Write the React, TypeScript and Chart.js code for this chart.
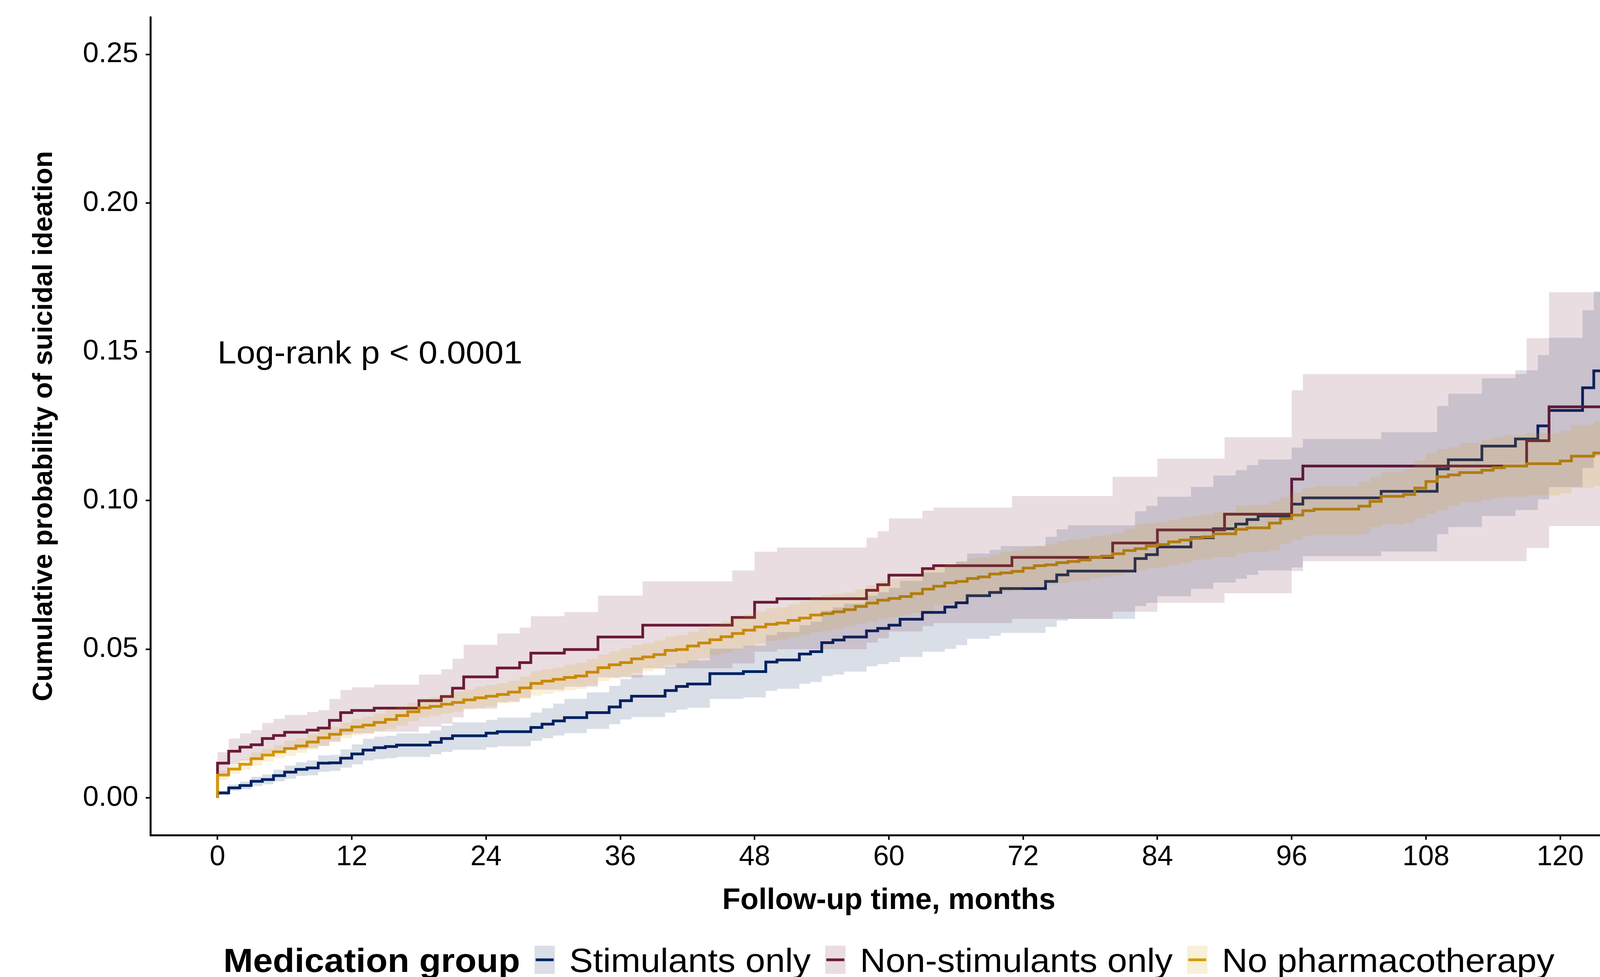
import React, { useEffect, useRef } from "react";
import { Chart, registerables } from "chart.js";

Chart.register(...registerables);

const FONT = "'Liberation Sans', Arial, Helvetica, sans-serif";

// ---------- axes / text ----------
const X_TICKS = [0, 12, 24, 36, 48, 60, 72, 84, 96, 108, 120];
const Y_TICKS = [0, 0.05, 0.1, 0.15, 0.2, 0.25];
const X_MIN = -6;
const X_MAX = 126;
const Y_MIN = -0.0125;
const Y_MAX = 0.2625;
const END_T = 125;

const GROUPS = ["Stimulants only", "Non-stimulants only", "No pharmacotherapy"];
const LEGEND_TITLE = "Medication group";
const X_TITLE = "Follow-up time, months";
const Y_TITLE = "Cumulative probability of suicidal ideation";
const ANNOTATION = "Log-rank p < 0.0001";
const ANNOT_X = 0;
const ANNOT_Y = 0.15;

const LINE_COLORS = ["rgb(0,33,97)", "rgb(107,26,53)", "rgb(215,155,0)"];
const BAND_COLORS = ["rgba(0,33,97,0.15)", "rgba(107,26,53,0.15)", "rgba(215,155,0,0.15)"];

// ---------- Stimulants only ----------
const STIM_T = [0, 1, 2, 3, 4, 5, 6, 7, 8, 9, 10, 11, 12, 13, 14, 15, 16, 19, 20, 21, 24, 25, 28, 29, 30, 31, 33, 35, 36, 37, 40, 41, 42, 44, 47, 49, 50, 52, 53, 54, 55, 56, 58, 59, 60, 61, 63, 65, 66, 67, 69, 70, 74, 75, 76, 82, 83, 84, 87, 89, 91, 92, 93, 96, 97, 104, 109, 110, 113, 116, 118, 119, 122, 123];
const STIM_EST = [0.0017, 0.0034, 0.0042, 0.0056, 0.0062, 0.0075, 0.0087, 0.0096, 0.0101, 0.0117, 0.0118, 0.0134, 0.0148, 0.0161, 0.0169, 0.0173, 0.0178, 0.0187, 0.0200, 0.0209, 0.0218, 0.0223, 0.0237, 0.0248, 0.0259, 0.0270, 0.0287, 0.0306, 0.0327, 0.0342, 0.0361, 0.0375, 0.0383, 0.0418, 0.0425, 0.0457, 0.0464, 0.0484, 0.0492, 0.0522, 0.0531, 0.0541, 0.0562, 0.0570, 0.0581, 0.0601, 0.0624, 0.0642, 0.0656, 0.0680, 0.0691, 0.0704, 0.0728, 0.0750, 0.0763, 0.0805, 0.0818, 0.0844, 0.0875, 0.0905, 0.0921, 0.0936, 0.0948, 0.0988, 0.1009, 0.1031, 0.1106, 0.1137, 0.1183, 0.1207, 0.1251, 0.1303, 0.1379, 0.1436];
const STIM_HI = [0.0025, 0.0045, 0.0055, 0.0071, 0.0079, 0.0095, 0.0109, 0.0120, 0.0126, 0.0143, 0.0145, 0.0163, 0.0180, 0.0199, 0.0206, 0.0209, 0.0217, 0.0227, 0.0243, 0.0254, 0.0263, 0.0270, 0.0287, 0.0302, 0.0317, 0.0333, 0.0355, 0.0377, 0.0400, 0.0413, 0.0440, 0.0452, 0.0462, 0.0502, 0.0512, 0.0548, 0.0558, 0.0581, 0.0593, 0.0630, 0.0641, 0.0653, 0.0680, 0.0692, 0.0706, 0.0730, 0.0758, 0.0778, 0.0795, 0.0822, 0.0834, 0.0847, 0.0878, 0.0903, 0.0917, 0.0964, 0.0982, 0.1013, 0.1046, 0.1084, 0.1102, 0.1119, 0.1138, 0.1178, 0.1207, 0.1230, 0.1318, 0.1359, 0.1411, 0.1438, 0.1489, 0.1547, 0.1640, 0.1703];
const STIM_LO = [0.0010, 0.0024, 0.0029, 0.0040, 0.0046, 0.0056, 0.0065, 0.0074, 0.0076, 0.0088, 0.0091, 0.0102, 0.0113, 0.0126, 0.0131, 0.0134, 0.0138, 0.0147, 0.0155, 0.0162, 0.0170, 0.0174, 0.0192, 0.0201, 0.0210, 0.0218, 0.0232, 0.0248, 0.0264, 0.0272, 0.0287, 0.0297, 0.0303, 0.0333, 0.0338, 0.0360, 0.0367, 0.0384, 0.0390, 0.0410, 0.0415, 0.0425, 0.0443, 0.0450, 0.0457, 0.0474, 0.0492, 0.0501, 0.0514, 0.0535, 0.0545, 0.0555, 0.0575, 0.0596, 0.0602, 0.0645, 0.0656, 0.0678, 0.0703, 0.0724, 0.0737, 0.0750, 0.0765, 0.0775, 0.0813, 0.0829, 0.0887, 0.0911, 0.0948, 0.0968, 0.1004, 0.1045, 0.1109, 0.1150];

// ---------- Non-stimulants only ----------
const NONSTIM_T = [0, 1, 2, 3, 4, 5, 6, 8, 9, 10, 11, 12, 14, 18, 20, 21, 22, 25, 27, 28, 31, 34, 38, 46, 48, 50, 58, 59, 60, 63, 64, 71, 80, 84, 90, 96, 97, 117, 119];
const NONSTIM_EST = [0.0117, 0.0157, 0.0171, 0.0179, 0.0200, 0.0210, 0.0221, 0.0228, 0.0235, 0.0261, 0.0287, 0.0294, 0.0302, 0.0327, 0.0341, 0.0369, 0.0407, 0.0437, 0.0455, 0.0487, 0.0499, 0.0541, 0.0581, 0.0607, 0.0658, 0.0670, 0.0698, 0.0717, 0.0749, 0.0771, 0.0781, 0.0809, 0.0857, 0.0901, 0.0954, 0.1072, 0.1116, 0.1201, 0.1315];
const NONSTIM_HI = [0.0154, 0.0200, 0.0217, 0.0228, 0.0252, 0.0266, 0.0279, 0.0289, 0.0295, 0.0333, 0.0363, 0.0372, 0.0381, 0.0415, 0.0433, 0.0468, 0.0515, 0.0553, 0.0573, 0.0611, 0.0625, 0.0680, 0.0728, 0.0765, 0.0828, 0.0842, 0.0875, 0.0897, 0.0940, 0.0966, 0.0976, 0.1015, 0.1080, 0.1141, 0.1213, 0.1371, 0.1425, 0.1546, 0.1700];
const NONSTIM_LO = [0.0078, 0.0114, 0.0126, 0.0131, 0.0148, 0.0155, 0.0164, 0.0168, 0.0175, 0.0190, 0.0212, 0.0217, 0.0223, 0.0240, 0.0250, 0.0271, 0.0300, 0.0322, 0.0337, 0.0364, 0.0374, 0.0405, 0.0436, 0.0452, 0.0492, 0.0500, 0.0522, 0.0537, 0.0560, 0.0578, 0.0588, 0.0602, 0.0626, 0.0656, 0.0688, 0.0763, 0.0796, 0.0840, 0.0914];

// ---------- No pharmacotherapy ----------
const NOPHARM_T = [0, 1, 2, 3, 4, 5, 6, 7, 8, 9, 10, 11, 12, 13, 14, 15, 16, 17, 18, 19, 20, 21, 22, 23, 24, 25, 26, 27, 28, 29, 30, 31, 32, 33, 34, 35, 36, 37, 38, 39, 40, 41, 42, 43, 44, 45, 46, 47, 48, 49, 50, 51, 52, 53, 54, 55, 56, 57, 58, 59, 60, 61, 62, 63, 64, 65, 66, 67, 68, 69, 70, 71, 72, 73, 74, 75, 76, 77, 78, 79, 80, 81, 82, 83, 84, 85, 86, 87, 88, 89, 91, 92, 94, 95, 96, 97, 98, 102, 103, 104, 106, 107, 108, 109, 110, 111, 113, 114, 115, 117, 120, 121, 123];
const NOPHARM_EST = [0.0077, 0.0097, 0.0113, 0.0132, 0.0144, 0.0155, 0.0166, 0.0175, 0.0188, 0.0202, 0.0214, 0.0228, 0.0239, 0.0245, 0.0254, 0.0264, 0.0277, 0.0290, 0.0303, 0.0308, 0.0315, 0.0321, 0.0330, 0.0337, 0.0342, 0.0348, 0.0356, 0.0370, 0.0385, 0.0393, 0.0399, 0.0405, 0.0410, 0.0423, 0.0438, 0.0448, 0.0455, 0.0468, 0.0474, 0.0482, 0.0496, 0.0499, 0.0511, 0.0521, 0.0532, 0.0542, 0.0553, 0.0564, 0.0575, 0.0584, 0.0588, 0.0597, 0.0605, 0.0615, 0.0620, 0.0626, 0.0633, 0.0644, 0.0655, 0.0665, 0.0671, 0.0677, 0.0687, 0.0702, 0.0712, 0.0723, 0.0728, 0.0738, 0.0743, 0.0753, 0.0757, 0.0762, 0.0773, 0.0781, 0.0784, 0.0791, 0.0795, 0.0800, 0.0810, 0.0813, 0.0821, 0.0832, 0.0838, 0.0847, 0.0852, 0.0861, 0.0867, 0.0873, 0.0878, 0.0888, 0.0903, 0.0908, 0.0924, 0.0939, 0.0951, 0.0966, 0.0971, 0.0981, 0.0997, 0.1014, 0.1020, 0.1042, 0.1064, 0.1080, 0.1086, 0.1094, 0.1102, 0.1110, 0.1116, 0.1124, 0.1133, 0.1149, 0.1160];
const NOPHARM_HI = [0.0092, 0.0113, 0.0131, 0.0154, 0.0165, 0.0178, 0.0192, 0.0201, 0.0214, 0.0230, 0.0240, 0.0253, 0.0267, 0.0274, 0.0284, 0.0295, 0.0308, 0.0321, 0.0334, 0.0339, 0.0347, 0.0358, 0.0365, 0.0375, 0.0380, 0.0386, 0.0394, 0.0408, 0.0427, 0.0433, 0.0439, 0.0449, 0.0455, 0.0468, 0.0482, 0.0493, 0.0503, 0.0515, 0.0521, 0.0530, 0.0543, 0.0548, 0.0559, 0.0572, 0.0582, 0.0594, 0.0606, 0.0617, 0.0628, 0.0638, 0.0641, 0.0652, 0.0662, 0.0672, 0.0682, 0.0686, 0.0690, 0.0702, 0.0715, 0.0728, 0.0737, 0.0740, 0.0744, 0.0768, 0.0777, 0.0787, 0.0794, 0.0805, 0.0809, 0.0818, 0.0828, 0.0832, 0.0841, 0.0848, 0.0853, 0.0863, 0.0868, 0.0872, 0.0880, 0.0884, 0.0891, 0.0905, 0.0920, 0.0924, 0.0927, 0.0935, 0.0942, 0.0948, 0.0952, 0.0961, 0.0982, 0.0986, 0.0997, 0.1012, 0.1027, 0.1042, 0.1048, 0.1062, 0.1080, 0.1097, 0.1106, 0.1134, 0.1159, 0.1173, 0.1180, 0.1193, 0.1205, 0.1213, 0.1220, 0.1227, 0.1236, 0.1255, 0.1266];
const NOPHARM_LO = [0.0061, 0.0082, 0.0095, 0.0110, 0.0122, 0.0134, 0.0141, 0.0152, 0.0162, 0.0175, 0.0187, 0.0201, 0.0211, 0.0217, 0.0226, 0.0232, 0.0243, 0.0258, 0.0271, 0.0276, 0.0284, 0.0290, 0.0297, 0.0302, 0.0308, 0.0318, 0.0326, 0.0333, 0.0344, 0.0350, 0.0357, 0.0362, 0.0367, 0.0379, 0.0393, 0.0402, 0.0409, 0.0420, 0.0426, 0.0433, 0.0446, 0.0449, 0.0460, 0.0470, 0.0480, 0.0489, 0.0499, 0.0509, 0.0519, 0.0528, 0.0532, 0.0540, 0.0548, 0.0557, 0.0562, 0.0567, 0.0577, 0.0586, 0.0592, 0.0602, 0.0608, 0.0615, 0.0622, 0.0630, 0.0648, 0.0652, 0.0662, 0.0674, 0.0677, 0.0684, 0.0693, 0.0697, 0.0706, 0.0712, 0.0718, 0.0722, 0.0727, 0.0731, 0.0740, 0.0744, 0.0749, 0.0757, 0.0765, 0.0772, 0.0775, 0.0784, 0.0790, 0.0799, 0.0803, 0.0810, 0.0823, 0.0827, 0.0833, 0.0855, 0.0868, 0.0880, 0.0884, 0.0888, 0.0910, 0.0920, 0.0924, 0.0940, 0.0955, 0.0967, 0.0981, 0.0994, 0.1002, 0.1008, 0.1012, 0.1017, 0.1024, 0.1042, 0.1049];

type Pt = { x: number; y: number };

function linePoints(T: number[], E: number[]): Pt[] {
  const pts: Pt[] = [{ x: T[0], y: 0 }];
  T.forEach((t, i) => pts.push({ x: t, y: E[i] }));
  pts.push({ x: END_T, y: E[E.length - 1] });
  return pts;
}

function bandPoints(T: number[], B: number[]): Pt[] {
  const pts: Pt[] = T.map((t, i) => ({ x: t, y: B[i] }));
  pts.push({ x: END_T, y: B[B.length - 1] });
  return pts;
}

const SERIES = [
  { t: STIM_T, est: STIM_EST, hi: STIM_HI, lo: STIM_LO },
  { t: NONSTIM_T, est: NONSTIM_EST, hi: NONSTIM_HI, lo: NONSTIM_LO },
  { t: NOPHARM_T, est: NOPHARM_EST, hi: NOPHARM_HI, lo: NOPHARM_LO },
];

// horizontally widened text (the reference glyphs are slightly wide)
const STRETCH = 1.06;

function wideText(ctx: CanvasRenderingContext2D, text: string, x: number, y: number) {
  ctx.save();
  ctx.translate(x, y);
  ctx.scale(STRETCH, 1);
  ctx.fillText(text, 0, 0);
  ctx.restore();
}

const decorPlugin = {
  id: "kmDecor",
  afterDraw(chart: any) {
    const { ctx, chartArea, scales } = chart;
    ctx.save();
    // annotation
    ctx.fillStyle = "#000";
    ctx.font = `82px ${FONT}`;
    ctx.textAlign = "left";
    ctx.textBaseline = "middle";
    wideText(ctx, ANNOTATION, scales.x.getPixelForValue(ANNOT_X), scales.y.getPixelForValue(ANNOT_Y) + 7);

    // legend
    const fs = 86;
    const keyW = 52;
    const keyH = 72;
    const gap = 37;
    ctx.font = `bold ${fs}px ${FONT}`;
    const titleW = ctx.measureText(LEGEND_TITLE).width * STRETCH;
    ctx.font = `${fs}px ${FONT}`;
    const itemW = GROUPS.map((g) => ctx.measureText(g).width * STRETCH);
    const total = titleW + GROUPS.length * (2 * gap + keyW) + itemW.reduce((a, b) => a + b, 0);
    const cx = (chartArea.left + chartArea.right) / 2;
    const cy = 2456;
    const baseline = cy + (0.716 * fs) / 2;
    let x = cx - total / 2;
    ctx.textBaseline = "alphabetic";
    ctx.font = `bold ${fs}px ${FONT}`;
    wideText(ctx, LEGEND_TITLE, x, baseline);
    x += titleW;
    ctx.font = `${fs}px ${FONT}`;
    GROUPS.forEach((g, i) => {
      x += gap;
      ctx.fillStyle = BAND_COLORS[i];
      ctx.fillRect(x, cy - keyH / 2, keyW, keyH);
      ctx.strokeStyle = LINE_COLORS[i];
      ctx.lineWidth = 7;
      ctx.beginPath();
      ctx.moveTo(x + 3, cy);
      ctx.lineTo(x + keyW - 3, cy);
      ctx.stroke();
      x += keyW + gap;
      ctx.fillStyle = "#000";
      wideText(ctx, g, x, baseline);
      x += itemW[i];
    });
    ctx.restore();
  },
};

export default function App() {
  const ref = useRef<HTMLCanvasElement | null>(null);

  useEffect(() => {
    document.body.style.margin = "0";
    const canvas = ref.current;
    if (!canvas) return;

    const datasets: any[] = [];
    SERIES.forEach((s, i) => {
      datasets.push({
        label: GROUPS[i],
        data: linePoints(s.t, s.est),
        borderColor: LINE_COLORS[i],
        backgroundColor: LINE_COLORS[i],
        borderWidth: 7,
        pointRadius: 0,
        stepped: "before",
        fill: false,
        order: 10 - i,
      });
    });
    SERIES.forEach((s, i) => {
      datasets.push({
        label: GROUPS[i] + " upper",
        data: bandPoints(s.t, s.hi),
        borderWidth: 0,
        borderColor: "rgba(0,0,0,0)",
        backgroundColor: BAND_COLORS[i],
        pointRadius: 0,
        stepped: "before",
        fill: "+1",
        order: 3 - i,
      });
      datasets.push({
        label: GROUPS[i] + " lower",
        data: bandPoints(s.t, s.lo),
        borderWidth: 0,
        borderColor: "rgba(0,0,0,0)",
        backgroundColor: BAND_COLORS[i],
        pointRadius: 0,
        stepped: "before",
        fill: false,
        order: 3 - i,
      });
    });

    const tickGrid = {
      display: true,
      drawOnChartArea: false,
      drawTicks: true,
      tickLength: 12,
      tickWidth: 4,
      tickColor: "#000",
    };
    const border = { display: true, color: "#000", width: 5 };

    const chart = new Chart(canvas, {
      type: "line",
      data: { datasets },
      options: {
        animation: false,
        responsive: false,
        devicePixelRatio: 1,
        layout: { padding: { top: 44, right: 34, bottom: 0, left: 0 } },
        plugins: {
          legend: { display: false },
          tooltip: { enabled: false },
          title: { display: false },
        },
        scales: {
          x: {
            type: "linear",
            min: X_MIN,
            max: X_MAX,
            afterBuildTicks: (s: any) => {
              s.ticks = X_TICKS.map((v) => ({ value: v }));
            },
            afterFit: (s: any) => {
              s.height = 363;
              s.paddingLeft = 0;
              s.paddingRight = 0;
            },
            grid: tickGrid,
            border,
            ticks: {
              color: "#000",
              font: { family: FONT, size: 72 },
              padding: 2,
              maxRotation: 0,
              autoSkip: false,
              callback: (v: any) => String(v),
            },
            title: {
              display: true,
              text: X_TITLE,
              color: "#000",
              font: { family: FONT, size: 76, weight: "bold" },
              padding: { top: 0, bottom: 149 },
            },
          },
          y: {
            type: "linear",
            min: Y_MIN,
            max: Y_MAX,
            afterBuildTicks: (s: any) => {
              s.ticks = Y_TICKS.map((v) => ({ value: v }));
            },
            afterFit: (s: any) => {
              s.width = 385;
              s.paddingTop = 0;
              s.paddingBottom = 0;
            },
            grid: tickGrid,
            border,
            ticks: {
              color: "#000",
              font: { family: FONT, size: 73 },
              padding: 19,
              callback: (v: any) => Number(v).toFixed(2),
            },
            title: {
              display: true,
              text: Y_TITLE,
              color: "#000",
              font: { family: FONT, size: 70, weight: "bold" },
              padding: { top: 72, bottom: 0 },
            },
          },
        },
      } as any,
      plugins: [decorPlugin],
    });

    return () => chart.destroy();
  }, []);

  return (
    <div style={{ width: 4098, height: 2500, overflow: "hidden", position: "relative", background: "#fff" }}>
      <canvas ref={ref} width={4200} height={2500} style={{ display: "block", width: 4200, height: 2500 }} />
    </div>
  );
}
